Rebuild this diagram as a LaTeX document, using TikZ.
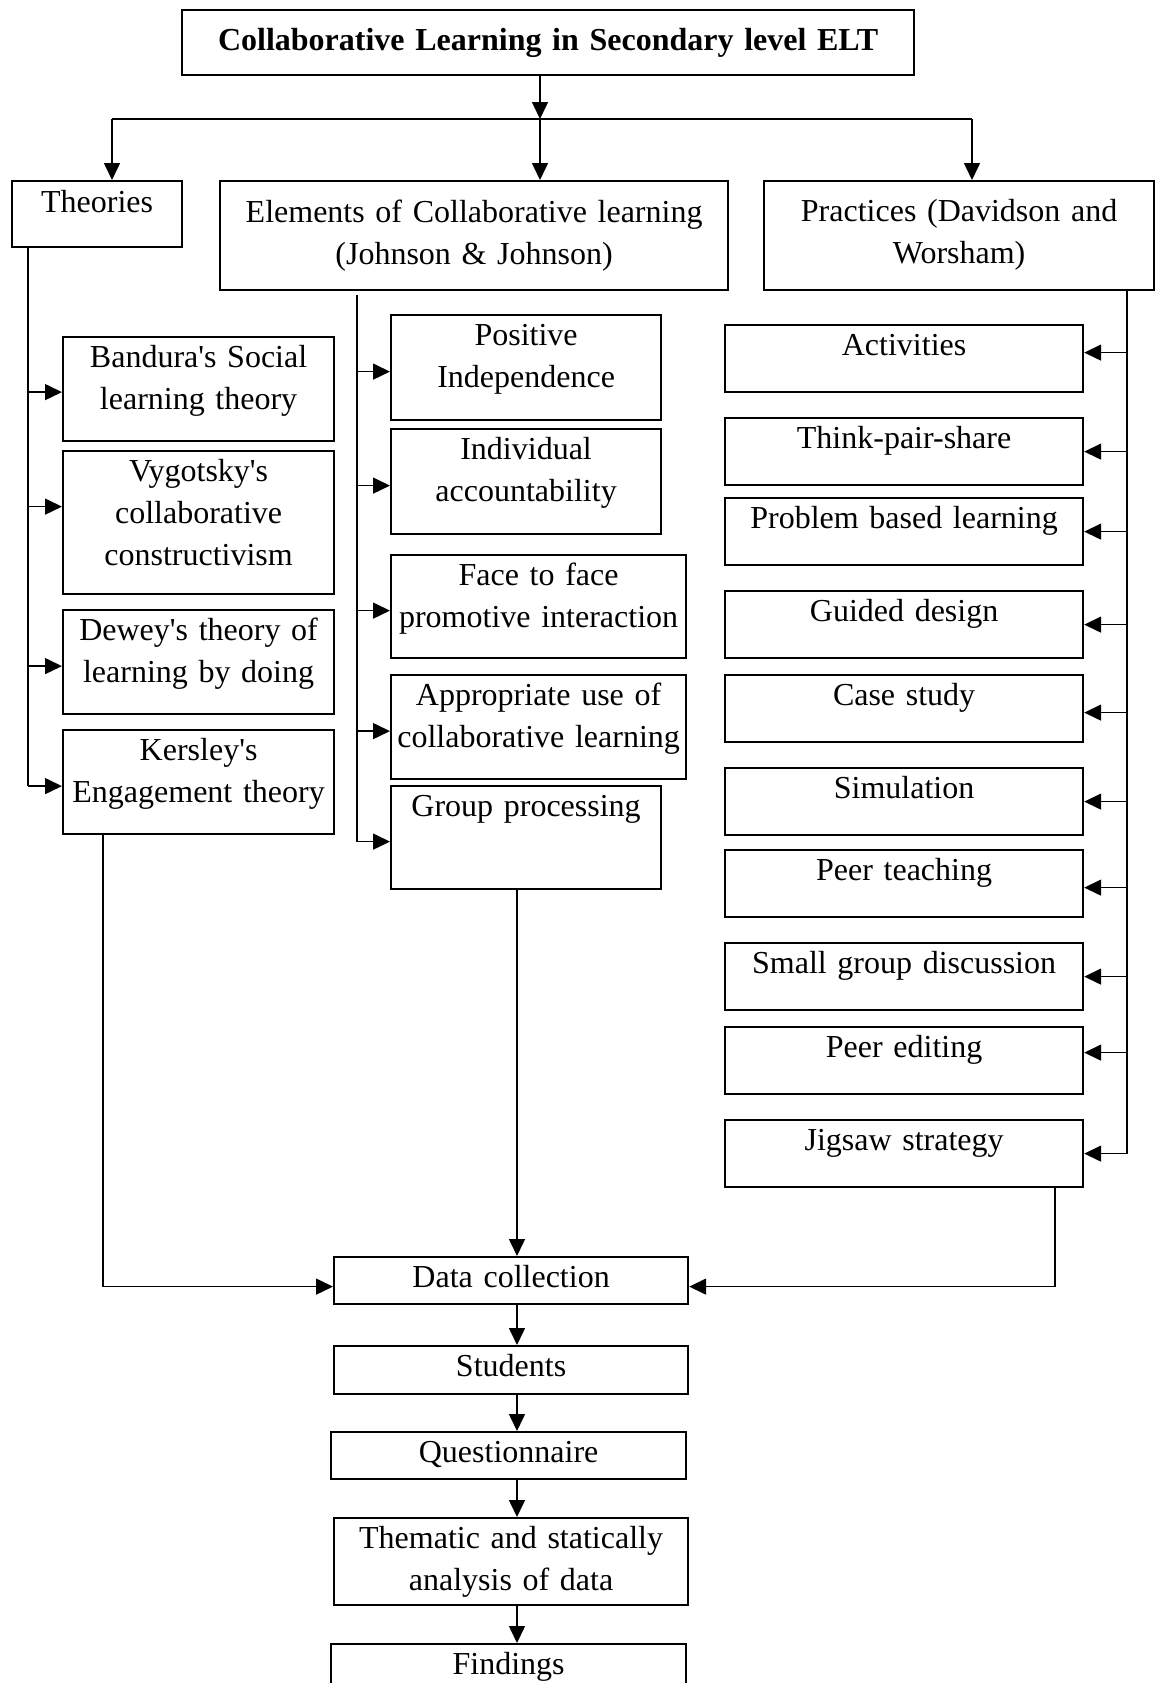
\documentclass[tikz,border=0pt]{standalone}
\usepackage{fontspec}
\setmainfont{Liberation Serif}
\usetikzlibrary{arrows.meta}

\tikzset{
  box/.style={draw, line width=1.1pt, anchor=north west, inner xsep=-6pt, inner ysep=0pt,
    align=center, text height=15pt, font=\fontsize{16}{21}\selectfont},
  cell/.style 2 args={box, text width=#1, text depth=#2},
}

\begin{document}
\begin{tikzpicture}[x=0.5pt, y=-0.5pt, line width=0.75pt, >={Triangle[length=8.5pt,width=8pt]}]
            \clip (0,0) rectangle (1155,1683);

            % top level
            \node[cell={378pt}{12.5pt}, text height=20pt, font=\fontsize{16}{21}\selectfont\bfseries] (title) at (181, 9) {Collaborative Learning in Secondary level ELT};
            \node[cell={97pt}{17.5pt}, text height=15.5pt] (theories) at (11, 180) {Theories};
            \node[cell={266pt}{34pt}, text height=20.5pt] (elements) at (219, 180) {Elements of Collaborative learning\\(Johnson \& Johnson)};
            \node[cell={207pt}{34.5pt}, text height=20pt] (practices) at (763, 180) {Practices (Davidson and\\Worsham)};

            % theories
            \node[cell={147.5pt}{37pt}] (bandura) at (62, 336) {Bandura\textquotesingle s Social\\learning theory};
            \node[cell={147.5pt}{56.5pt}] (vygotsky) at (62, 450) {Vygotsky\textquotesingle s\\collaborative\\constructivism};
            \node[cell={147.5pt}{37pt}] (dewey) at (62, 609) {Dewey\textquotesingle s theory of\\learning by doing};
            \node[cell={147.5pt}{37pt}] (kersley) at (62, 729) {Kersley\textquotesingle s\\Engagement theory};

            % elements
            \node[cell={147pt}{37.5pt}] (positive) at (390, 314) {Positive\\Independence};
            \node[cell={147pt}{37.5pt}] (individual) at (390, 428) {Individual\\accountability};
            \node[cell={159.5pt}{36.5pt}] (face) at (390, 554) {Face to face\\promotive interaction};
            \node[cell={159.5pt}{37pt}] (approp) at (390, 674) {Appropriate use of\\collaborative learning};
            \node[cell={147pt}{36.5pt}] (group) at (390, 785) {Group processing};

            % practices
            \node[cell={191pt}{18.5pt}] (activities) at (724, 324) {Activities};
            \node[cell={191pt}{18.5pt}] (think) at (724, 417) {Think-pair-share};
            \node[cell={191pt}{18.5pt}] (problem) at (724, 497) {Problem based learning};
            \node[cell={191pt}{18.5pt}] (guided) at (724, 590) {Guided design};
            \node[cell={191pt}{18.5pt}] (case) at (724, 674) {Case study};
            \node[cell={191pt}{18.5pt}] (simulation) at (724, 767) {Simulation};
            \node[cell={191pt}{18.5pt}] (peerteach) at (724, 849) {Peer teaching};
            \node[cell={191pt}{18.5pt}] (smallgroup) at (724, 942) {Small group discussion};
            \node[cell={191pt}{18.5pt}] (peeredit) at (724, 1026) {Peer editing};
            \node[cell={191pt}{18.5pt}] (jigsaw) at (724, 1119) {Jigsaw strategy};

            % method
            \node[cell={189pt}{8.5pt}] (datacoll) at (333, 1256) {Data collection};
            \node[cell={189pt}{9pt}] (students) at (333, 1345) {Students};
            \node[cell={189.5pt}{8.5pt}] (questionnaire) at (330, 1431) {Questionnaire};
            \node[cell={189pt}{28.5pt}] (thematic) at (333, 1517) {Thematic and statically\\analysis of data};
            \node[cell={189.5pt}{15pt}] (findings) at (330, 1643) {Findings};

            \coordinate (hub) at (540, 119);
            \coordinate (hubl) at (112, 119);
            \coordinate (hubr) at (972, 119);
            \coordinate (tl) at (28, 0);
            \coordinate (ml) at (357, 0);
            \coordinate (rl) at (1127, 0);
            \coordinate (kx) at (103, 0);
            \coordinate (mid) at (517, 0);
            \coordinate (jx) at (1055, 0);

            \draw[->] (title.south -| hub) -- (hub);
            \draw (hubl) -- (hubr);
            \draw[->] (hubl) -- (theories.north -| hubl);
            \draw[->] (hub) -- (elements.north -| hub);
            \draw[->] (hubr) -- (practices.north -| hubr);

            \draw (theories.south -| tl) -- ([yshift=-2pt]kersley.west -| tl);
            \draw[->] ([yshift=-1.5pt]bandura.west -| tl) -- ([yshift=-1.5pt]bandura.west);
            \draw[->] ([yshift=8pt]vygotsky.west -| tl) -- ([yshift=8pt]vygotsky.west);
            \draw[->] ([yshift=-2pt]dewey.west -| tl) -- ([yshift=-2pt]dewey.west);
            \draw[->] ([yshift=-2pt]kersley.west -| tl) -- ([yshift=-2pt]kersley.west);

            \draw ([yshift=-2pt]elements.south -| ml) -- ([yshift=-2pt]group.west -| ml);
            \draw[->] ([yshift=-2pt]positive.west -| ml) -- ([yshift=-2pt]positive.west);
            \draw[->] ([yshift=-2pt]individual.west -| ml) -- ([yshift=-2pt]individual.west);
            \draw[->] ([yshift=-2pt]face.west -| ml) -- ([yshift=-2pt]face.west);
            \draw[->] ([yshift=-2pt]approp.west -| ml) -- ([yshift=-2pt]approp.west);
            \draw[->] ([yshift=-2pt]group.west -| ml) -- ([yshift=-2pt]group.west);

            \draw (practices.south -| rl) -- (jigsaw.east -| rl);
            \draw[->] ([yshift=3pt]activities.east -| rl) -- ([yshift=3pt]activities.east);
            \draw[->] (think.east -| rl) -- (think.east);
            \draw[->] (problem.east -| rl) -- (problem.east);
            \draw[->] (guided.east -| rl) -- (guided.east);
            \draw[->] ([yshift=-2pt]case.east -| rl) -- ([yshift=-2pt]case.east);
            \draw[->] (simulation.east -| rl) -- (simulation.east);
            \draw[->] ([yshift=-2pt]peerteach.east -| rl) -- ([yshift=-2pt]peerteach.east);
            \draw[->] (smallgroup.east -| rl) -- (smallgroup.east);
            \draw[->] ([yshift=4pt]peeredit.east -| rl) -- ([yshift=4pt]peeredit.east);
            \draw[->] (jigsaw.east -| rl) -- (jigsaw.east);

            \draw[->] (kersley.south -| kx) |- ([yshift=-3pt]datacoll.west);
            \draw[->] (group.south -| mid) -- (datacoll.north -| mid);
            \draw[->] (jigsaw.south -| jx) |- ([yshift=-3pt]datacoll.east);
            \draw[->] (datacoll.south -| mid) -- (students.north -| mid);
            \draw[->] (students.south -| mid) -- (questionnaire.north -| mid);
            \draw[->] (questionnaire.south -| mid) -- (thematic.north -| mid);
            \draw[->] (thematic.south -| mid) -- (findings.north -| mid);
        \end{tikzpicture}
\end{document}
